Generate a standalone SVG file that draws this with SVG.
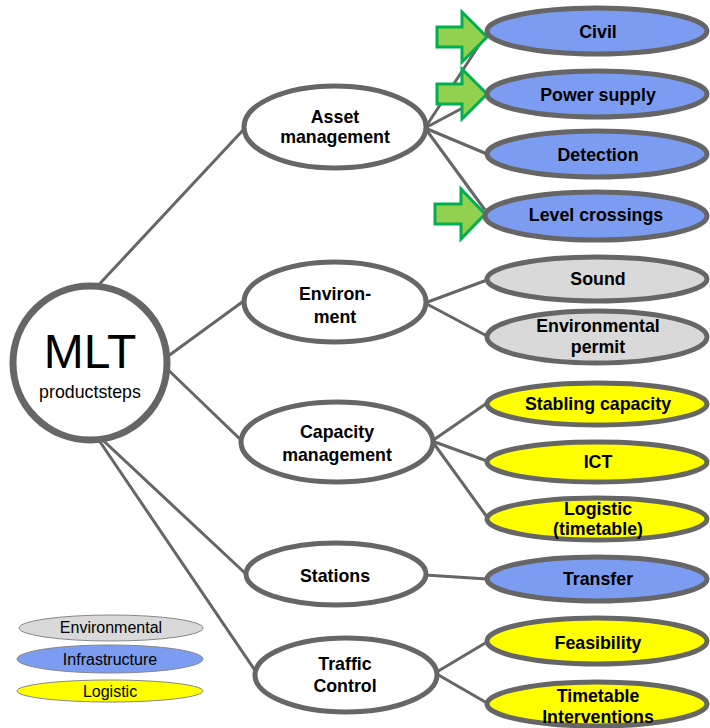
<svg xmlns="http://www.w3.org/2000/svg" width="710" height="728" viewBox="0 0 710 728">
<style>
text{font-family:"Liberation Sans",Arial,sans-serif;text-anchor:middle;fill:#000}
.b{font-weight:bold;font-size:17.8px}
.mid{fill:#fff;stroke:#666;stroke-width:5}
.leaf{stroke:#666;stroke-width:5}
.blue{fill:#7B9CF0}
.gray{fill:#D9D9D9}
.yel{fill:#FFFF00}
.conn line{stroke:#666;stroke-width:3}
.arr{fill:#92D050;stroke:#00B050;stroke-width:3;stroke-linejoin:miter}
.leg{stroke:#888;stroke-width:1}
.lt{font-size:16px}
</style>
<rect width="710" height="728" fill="#fff"/>
<g id="connectors" class="conn">
<line x1="92" y1="292" x2="245" y2="128"/>
<line x1="160" y1="362" x2="245" y2="300"/>
<line x1="160" y1="362" x2="242" y2="441"/>
<line x1="92" y1="430" x2="246" y2="574"/>
<line x1="92" y1="430" x2="256" y2="672"/>
<line x1="425" y1="128" x2="487" y2="33"/>
<line x1="425" y1="128" x2="487" y2="95"/>
<line x1="425" y1="128" x2="487" y2="154"/>
<line x1="425" y1="128" x2="485" y2="210"/>
<line x1="425" y1="303" x2="487" y2="280"/>
<line x1="425" y1="303" x2="487" y2="336"/>
<line x1="432" y1="441" x2="487" y2="403"/>
<line x1="432" y1="441" x2="487" y2="461"/>
<line x1="432" y1="441" x2="487" y2="517"/>
<line x1="425" y1="575" x2="487" y2="579"/>
<line x1="435" y1="673" x2="487" y2="642"/>
<line x1="435" y1="673" x2="487" y2="703"/>
</g>
<g id="mlt">
<circle cx="90" cy="363" r="77" fill="#fff" stroke="#666" stroke-width="7"/>
<text x="90" y="368" style="font-size:48px">MLT</text>
<text x="90" y="398" style="font-size:17.8px">productsteps</text>
</g>
<g id="asset"><ellipse class="mid" cx="335" cy="127" rx="91" ry="41"/><text class="b" x="335" y="123">Asset</text><text class="b" x="335" y="143">management</text></g>
<g id="environ"><ellipse class="mid" cx="335" cy="302" rx="91" ry="40"/><text class="b" x="335" y="300">Environ-</text><text class="b" x="335" y="323">ment</text></g>
<g id="capacity"><ellipse class="mid" cx="337" cy="442" rx="96" ry="40"/><text class="b" x="337" y="438">Capacity</text><text class="b" x="337" y="461">management</text></g>
<g id="stations"><ellipse class="mid" cx="336" cy="574" rx="90" ry="31"/><text class="b" x="335" y="582">Stations</text></g>
<g id="traffic"><ellipse class="mid" cx="346" cy="675" rx="91" ry="37"/><text class="b" x="345" y="670">Traffic</text><text class="b" x="345" y="692">Control</text></g>
<g id="arrows">
<polygon class="arr" points="437,27 462,27 462,12 487,37 462,62 462,47 437,47"/>
<polygon class="arr" points="437,84 462,84 462,69 487,94 462,119 462,104 437,104"/>
<polygon class="arr" points="435,204 461,204 461,189 485,214 461,239 461,224 435,224"/>
</g>
<g id="civil"><ellipse class="leaf blue" cx="597" cy="31" rx="110" ry="23"/><text class="b" x="598" y="38">Civil</text></g>
<g id="power"><ellipse class="leaf blue" cx="597" cy="94" rx="110" ry="23"/><text class="b" x="598" y="101">Power supply</text></g>
<g id="detection"><ellipse class="leaf blue" cx="597" cy="154" rx="110" ry="23"/><text class="b" x="598" y="161">Detection</text></g>
<g id="level"><ellipse class="leaf blue" cx="596" cy="216" rx="111" ry="24"/><text class="b" x="596" y="221">Level crossings</text></g>
<g id="sound"><ellipse class="leaf gray" cx="597" cy="279" rx="110" ry="22"/><text class="b" x="598" y="285">Sound</text></g>
<g id="permit"><ellipse class="leaf gray" cx="597" cy="337" rx="110" ry="26"/><text class="b" x="598" y="332">Environmental</text><text class="b" x="598" y="353">permit</text></g>
<g id="stabling"><ellipse class="leaf yel" cx="597" cy="404" rx="110" ry="21"/><text class="b" x="598" y="410">Stabling capacity</text></g>
<g id="ict"><ellipse class="leaf yel" cx="597" cy="462" rx="110" ry="20"/><text class="b" x="598" y="468">ICT</text></g>
<g id="logistic"><ellipse class="leaf yel" cx="597" cy="519" rx="110" ry="21"/><text class="b" x="598" y="515">Logistic</text><text class="b" x="598" y="535">(timetable)</text></g>
<g id="transfer"><ellipse class="leaf blue" cx="597" cy="579" rx="110" ry="22"/><text class="b" x="598" y="585">Transfer</text></g>
<g id="feasibility"><ellipse class="leaf yel" cx="597" cy="641" rx="110" ry="23"/><text class="b" x="598" y="649">Feasibility</text></g>
<g id="timetable"><ellipse class="leaf yel" cx="597" cy="704" rx="110" ry="22"/><text class="b" x="598" y="702">Timetable</text><text class="b" x="598" y="723">Interventions</text></g>
<g id="legend">
<ellipse class="leg gray" cx="111" cy="628" rx="92" ry="13"/><text class="lt" x="111" y="633">Environmental</text>
<ellipse class="leg blue" cx="110" cy="659" rx="93" ry="14"/><text class="lt" x="110" y="665">Infrastructure</text>
<ellipse class="leg yel" cx="110" cy="691" rx="93" ry="11"/><text class="lt" x="110" y="697">Logistic</text>
</g>
</svg>
